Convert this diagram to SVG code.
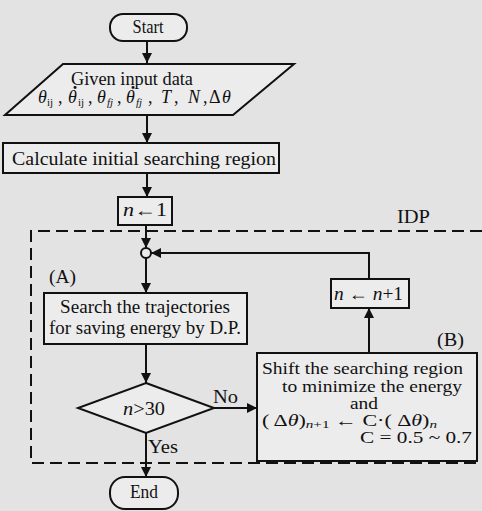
<svg xmlns="http://www.w3.org/2000/svg" width="482" height="511" viewBox="0 0 482 511">
<defs>
<marker id="ah" viewBox="0 0 10 10" refX="10" refY="5" markerWidth="10" markerHeight="10" markerUnits="userSpaceOnUse" orient="auto">
<path d="M0,0 L10,5 L0,10 z" fill="#111"/>
</marker>
</defs>
<style>
.n{fill:#ececec;stroke:#111;stroke-width:2}
.c{fill:none;stroke:#111;stroke-width:2}
.t{font-family:"Liberation Serif","Times New Roman",serif;fill:#111;font-size:18px}
.b{font-size:16px}
.m{text-anchor:middle}
.i{font-style:italic}
.s{font-size:11px}
.d{font-weight:bold}
</style>
<rect x="0" y="0" width="482" height="511" fill="#e3e3e3"/>
<g id="idp-region">
<path d="M482,231 H31 V463 H482" fill="none" stroke="#111" stroke-width="2" stroke-dasharray="12,6"/>
<text class="t" x="397" y="223" font-size="20" textLength="33" lengthAdjust="spacingAndGlyphs">IDP</text>
<text class="t" x="49" y="283" textLength="27" lengthAdjust="spacingAndGlyphs">(A)</text>
<text class="t" x="437" y="346" textLength="27" lengthAdjust="spacingAndGlyphs">(B)</text>
</g>
<g id="connectors">
<line class="c" x1="147" y1="41" x2="147" y2="63" marker-end="url(#ah)"/>
<line class="c" x1="147" y1="115" x2="147" y2="143" marker-end="url(#ah)"/>
<line class="c" x1="147" y1="173" x2="147" y2="197" marker-end="url(#ah)"/>
<line class="c" x1="146" y1="225" x2="146" y2="248" marker-end="url(#ah)"/>
<line class="c" x1="146" y1="258" x2="146" y2="293" marker-end="url(#ah)"/>
<line class="c" x1="146" y1="344" x2="146" y2="383" marker-end="url(#ah)"/>
<line class="c" x1="214" y1="408" x2="257" y2="408" marker-end="url(#ah)"/>
<line class="c" x1="146" y1="433" x2="146" y2="477" marker-end="url(#ah)"/>
<line class="c" x1="369" y1="353" x2="369" y2="308" marker-end="url(#ah)"/>
<polyline class="c" points="369,279 369,253 151,253" marker-end="url(#ah)"/>
<text class="t" x="213" y="403" textLength="25" lengthAdjust="spacingAndGlyphs">No</text>
<text class="t" x="148" y="453" textLength="30" lengthAdjust="spacingAndGlyphs">Yes</text>
</g>
<g id="start">
<rect class="n" x="110" y="14" width="77" height="27" rx="13"/>
<text class="t m" x="148" y="33" font-size="16" textLength="31" lengthAdjust="spacingAndGlyphs">Start</text>
</g>
<g id="input">
<polygon class="n" points="63,64 294,64 233,115 5,115"/>
<text class="t m" x="132" y="85" textLength="122" lengthAdjust="spacingAndGlyphs">Given input data</text>
<text class="t"><tspan class="i" x="38" y="103">θ</tspan><tspan class="s" x="47" y="106">ij</tspan><tspan x="58" y="103">,</tspan><tspan class="i" x="68" y="103">θ</tspan><tspan class="d" x="72" y="94">·</tspan><tspan class="s" x="78" y="106">ij</tspan><tspan x="88" y="103">,</tspan><tspan class="i" x="97" y="103">θ</tspan><tspan class="s i" x="107" y="106">fj</tspan><tspan x="117" y="103">,</tspan><tspan class="i" x="126" y="103">θ</tspan><tspan class="d" x="130" y="94">·</tspan><tspan class="s i" x="136" y="106">fj</tspan><tspan x="148" y="103">,</tspan><tspan class="i" x="161" y="103">T</tspan><tspan x="174" y="103">,</tspan><tspan class="i" x="188" y="103">N</tspan><tspan x="203" y="103">,</tspan><tspan x="209" y="103">Δ</tspan><tspan class="i" x="222" y="103">θ</tspan></text>
</g>
<g id="calc">
<rect class="n" x="3" y="143" width="276" height="30"/>
<text class="t m" x="144" y="165" textLength="264" lengthAdjust="spacingAndGlyphs">Calculate initial searching region</text>
</g>
<g id="init-n">
<rect class="n" x="118" y="197" width="54" height="28"/>
<text class="t" x="123" y="216" textLength="44" lengthAdjust="spacingAndGlyphs"><tspan class="i">n</tspan>←1</text>
</g>
<g id="junction">
<circle cx="146" cy="253" r="5" fill="#ececec" stroke="#111" stroke-width="2"/>
</g>
<g id="search">
<rect class="n" x="44" y="293" width="203" height="51"/>
<text class="t m" x="145" y="313" textLength="170" lengthAdjust="spacingAndGlyphs">Search the trajectories</text>
<text class="t m" x="145" y="334" textLength="192" lengthAdjust="spacingAndGlyphs">for saving energy by D.P.</text>
</g>
<g id="decision">
<polygon class="n" points="146,383 214,408 146,433 78,408"/>
<text class="t" x="123" y="415" textLength="42" lengthAdjust="spacingAndGlyphs"><tspan class="i">n</tspan>&gt;30</text>
</g>
<g id="increment">
<rect class="n" x="331" y="279" width="78" height="29"/>
<text class="t" x="334" y="300" textLength="69" lengthAdjust="spacingAndGlyphs"><tspan class="i">n</tspan> ← <tspan class="i">n</tspan>+1</text>
</g>
<g id="shift">
<rect class="n" x="257" y="353" width="220" height="108"/>
<text class="t b" x="262" y="374" textLength="201" lengthAdjust="spacingAndGlyphs">Shift the searching region</text>
<text class="t b" x="282" y="392" textLength="180" lengthAdjust="spacingAndGlyphs">to minimize the energy</text>
<text class="t b" x="350" y="409" textLength="28" lengthAdjust="spacingAndGlyphs">and</text>
<text class="t b" x="262" y="426" textLength="175" lengthAdjust="spacingAndGlyphs">( Δ<tspan class="i">θ</tspan>)<tspan class="s i" dy="2">n</tspan><tspan class="s">+1</tspan><tspan dy="-2"> ← C·( Δ</tspan><tspan class="i">θ</tspan>)<tspan class="s i" dy="2">n</tspan></text>
<text class="t b" x="360" y="443" textLength="112" lengthAdjust="spacingAndGlyphs">C = 0.5 ~ 0.7</text>
</g>
<g id="end">
<rect class="n" x="110" y="477" width="68" height="32" rx="15"/>
<text class="t m" x="144" y="498" font-size="16" textLength="28" lengthAdjust="spacingAndGlyphs">End</text>
</g>
</svg>
